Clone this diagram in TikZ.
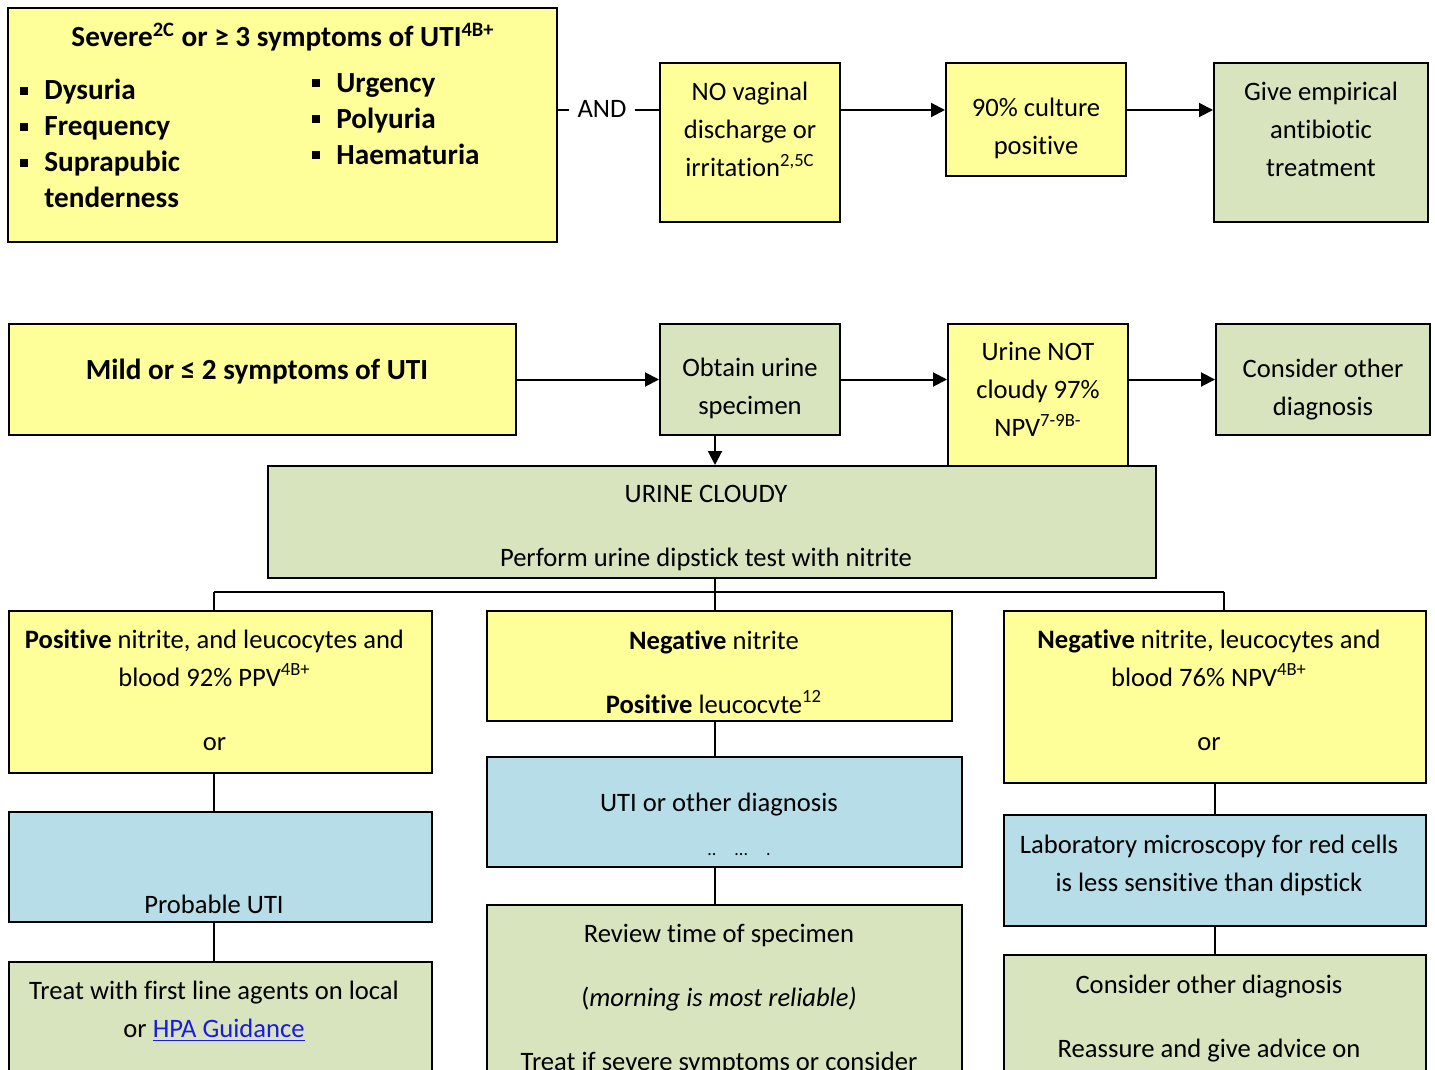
\documentclass[tikz,border=0pt]{standalone}
\usepackage{fontspec}
\setmainfont{Carlito}[Ligatures=NoCommon]
\usetikzlibrary{arrows.meta,fit}
\definecolor{uyellow}{HTML}{FFFF99}
\definecolor{ugreen}{HTML}{D7E4BD}
\definecolor{ublue}{HTML}{B7DEE8}
\definecolor{linkblue}{HTML}{1A1AE6}
\newcommand{\itm}{\rule[2.5pt]{4pt}{4pt}\hspace{8pt}}
\newcommand{\sups}[1]{\textsuperscript{#1}}

\begin{document}
\begin{tikzpicture}[x=0.5pt, y=-0.5pt,
    box/.style={draw, line width=1pt, inner sep=0pt},
    yel/.style={box, fill=uyellow},
    grn/.style={box, fill=ugreen},
    blu/.style={box, fill=ublue},
    txt/.style={anchor=north, align=center, inner sep=0pt,
        font=\fontsize{13.3}{19}\selectfont, execute at begin node=\strut},
    hd/.style={txt, font=\fontsize{14.6}{18}\selectfont\bfseries},
    lst/.style={hd, align=left, anchor=north west},
    link/.style={line width=1pt},
    arr/.style={link, -{Triangle[length=7pt, width=7pt]}}]
\useasboundingbox (0,0) rectangle (1435,1070);

% severe symptoms row
\node[yel, fit={(8,8) (557,242)}] (severe) {};
\node[hd] (severetxt) at (283,21) {Severe\sups{2C} or ≥ 3 symptoms of UTI\sups{4B+}};
\node[lst] (listL) at (20,79) {\itm Dysuria\\ \itm Frequency\\ \itm Suprapubic\\ \hphantom{\itm}tenderness};
\node[lst] (listR) at (312,73) {\itm Urgency\\ \itm Polyuria\\ \itm Haematuria};
\node[txt, anchor=center, inner sep=4pt, execute at begin node={}] (andlbl) at (602,110) {AND};
\node[yel, fit={(660,63) (840,222)}] (novaginal) {};
\node[txt] at (750,82) {NO vaginal\\discharge or\\irritation\sups{2,5C}};
\node[yel, fit={(946,63) (1126,176)}] (culture) {};
\node[txt] at (1036,98) {90\% culture\\positive};
\node[grn, fit={(1214,63) (1428,222)}] (empirical) {};
\node[txt] at (1321,82) {Give empirical\\antibiotic\\treatment};

\draw[link] (severe.east |- andlbl) -- (andlbl) -- (novaginal.west |- andlbl);
\draw[arr] (novaginal.east |- andlbl) -- (culture.west |- andlbl);
\draw[arr] (culture.east |- andlbl) -- (empirical.west |- andlbl);

% mild symptoms row
\node[yel, fit={(9,324) (516,435)}] (mild) {};
\node[hd] at (257,354) {Mild or ≤ 2 symptoms of UTI};
\node[grn, fit={(660,324) (840,435)}] (obtain) {};
\node[txt] at (750,358) {Obtain urine\\specimen};
\node[yel, fit={(948,324) (1128,466)}] (notcloudy) {};
\node[txt] at (1038,342) {Urine NOT\\cloudy 97\%\\NPV\sups{7-9B-}};
\node[grn, fit={(1216,324) (1430,435)}] (consider) {};
\node[txt] at (1323,359) {Consider other\\diagnosis};
\node[grn, fit={(268,466) (1156,578)}] (cloudy) {};
\node[txt] at (706,485) {URINE CLOUDY\\[13pt]Perform urine dipstick test with nitrite};

\coordinate (busL) at (214,592);
\coordinate (busM) at (715,592);
\coordinate (busR) at (1224,592);

\draw[arr] (mild.east) -- (obtain.west |- mild.east);
\draw[arr] (obtain.east |- mild.east) -- (notcloudy.west |- mild.east);
\draw[arr] (notcloudy.east |- consider.west) -- (consider.west);
\draw[arr] (obtain.south -| busM) -- (cloudy.north -| busM);

% dipstick results
\node[yel, fit={(9,611) (432,773)}] (pos) {};
\node[txt] at (214.5,629) {\textbf{Positive} nitrite, and leucocytes and\\blood 92\% PPV\sups{4B+}\\[13pt]or};
\node[blu, fit={(9,812) (432,922)}] (probable) {};
\node[txt] at (214,886) {Probable UTI};
\node[grn, fit={(9,962) (432,1085)}] (treat) {};
\node[txt] at (214,981) {Treat with first line agents on local\\or \textcolor{linkblue}{\underline{HPA Guidance}}};

\node[yel, fit={(487,611) (952,721)}] (neg) {};
\node[txt] at (714,630) {\textbf{Negative} nitrite\\[13pt]\textbf{Positive} leucocvte\sups{12}};
\node[blu, fit={(487,757) (962,867)}] (utiother) {};
\node[txt] at (719,784) {UTI or other diagnosis};
\node[font=\fontsize{9}{9}\selectfont, inner sep=0pt] (utidots) at (739,855) {..\hspace{9pt}...\hspace{9pt}.};
\node[grn, fit={(487,905) (962,1085)}] (review) {};
\node[txt] at (719,924) {Review time of specimen\\[13pt](\textit{morning is most reliable)}\\[13pt]Treat if severe symptoms or consider};

\node[yel, fit={(1004,611) (1426,783)}] (negall) {};
\node[txt] at (1209,629) {\textbf{Negative} nitrite, leucocytes and\\blood 76\% NPV\sups{4B+}\\[13pt]or};
\node[blu, fit={(1004,815) (1426,926)}] (lab) {};
\node[txt] at (1209,835) {Laboratory microscopy for red cells\\is less sensitive than dipstick};
\node[grn, fit={(1004,955) (1426,1085)}] (consider2) {};
\node[txt] at (1209,975) {Consider other diagnosis\\[13pt]Reassure and give advice on};

\draw[link] (cloudy.south -| busM) -- (busM);
\draw[link] (busL) -- (busR);
\draw[link] (busL) -- (pos.north -| busL);
\draw[link] (busM) -- (neg.north -| busM);
\draw[link] (busR) -- (negall.north -| busR);
\draw[link] (pos.south -| busL) -- (probable.north -| busL);
\draw[link] (probable.south -| busL) -- (treat.north -| busL);
\draw[link] (neg.south -| busM) -- (utiother.north -| busM);
\draw[link] (utiother.south -| busM) -- (review.north -| busM);
\draw[link] (negall.south) -- (lab.north);
\draw[link] (lab.south) -- (consider2.north);
\end{tikzpicture}
\end{document}
